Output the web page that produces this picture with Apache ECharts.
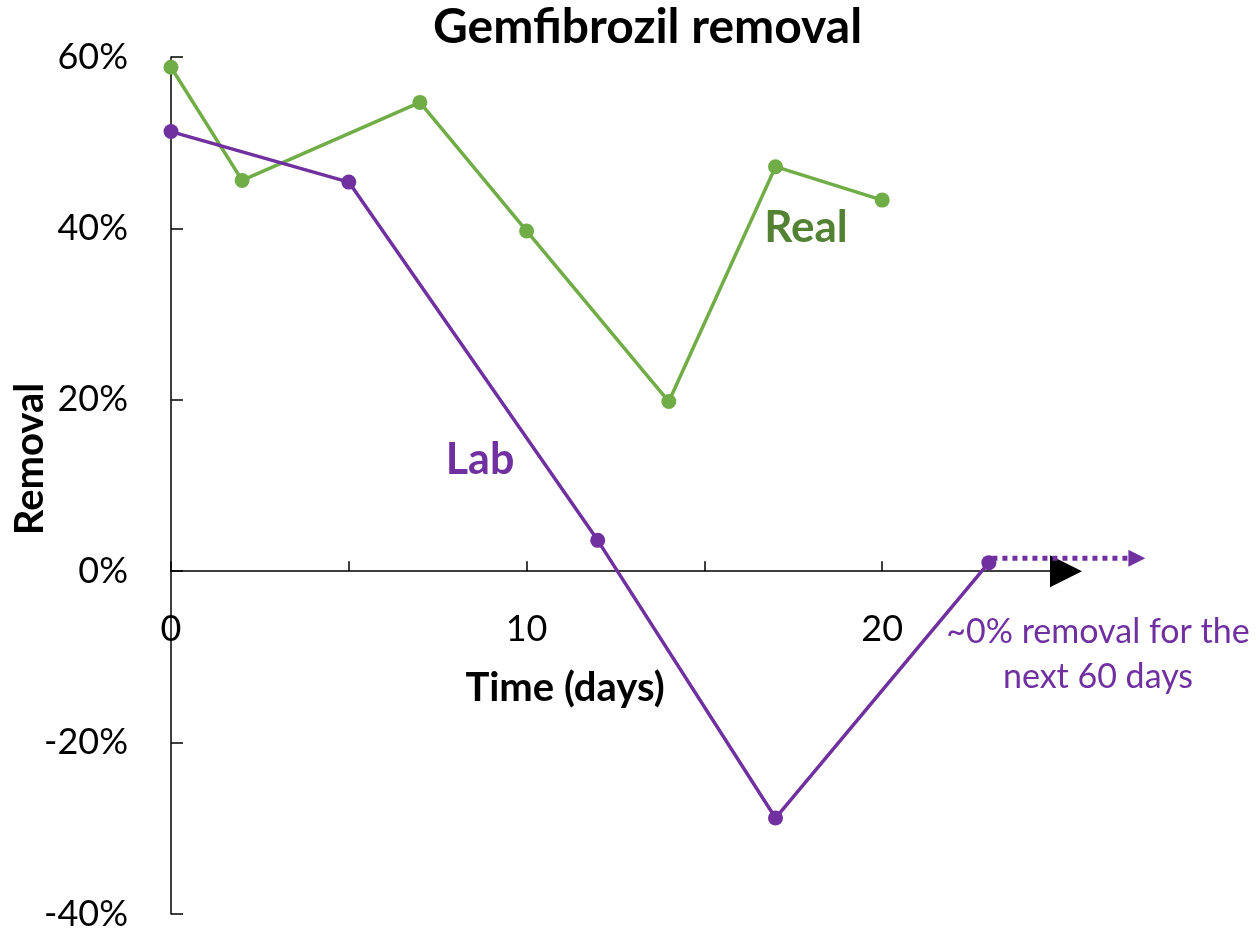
<!DOCTYPE html>
<html>
<head>
<meta charset="utf-8">
<title>Gemfibrozil removal</title>
<script src="https://cdn.jsdelivr.net/npm/echarts@6/dist/echarts.min.js"></script>
<style>
  html, body { margin: 0; padding: 0; background: #fff; }
  #chart { width: 1256px; height: 932px; }
</style>
</head>
<body>
<div id="chart"></div>
<script>
// days since start, removal in %
var realDays = [0, 2, 7, 10, 14, 17, 20]
var realRemoval = [58.8, 45.6, 54.7, 39.7, 19.8, 47.2, 43.3]
var labDays = [0, 5, 12, 17, 23]
var labRemoval = [51.3, 45.4, 3.6, -28.8, 1.0]
// the "~0% for the next 60 days" dotted arrow: [from day, to day, level]
var arrowSpan = [23.1, 27.4, 1.5]

var yTicks = [-40, -20, 0, 20, 40, 60]

var font = 'Lato, "Noto Sans", sans-serif'
var green = '#70AD47'
var purple = '#7030A0'

// grid edges in px, the x axis sits on the 0% line
var gridTop = 57, gridBottom = 914

function pairs(xs, ys) {
    return xs.map(function (x, i) { return [x, ys[i]] })
}

var chart = echarts.init(document.getElementById('chart'))

var option = {
    backgroundColor: '#fff',
    animation: false,
    title: {
        text: 'Gemfibrozil removal',
        left: 433,
        top: 4,
        padding: 0,
        textStyle: { fontFamily: font, fontWeight: 'bold', fontSize: 48, color: '#000' }
    },
    grid: {
        left: 171, right: 1256 - 1060, top: gridTop, bottom: 932 - gridBottom,
        containLabel: false, outerBoundsMode: 'none'
    },
    xAxis: {
        type: 'value',
        min: 0,
        max: 25,
        interval: 5,
        position: 'bottom',
        // lift the axis up to the 0% line
        offset: -(gridBottom - gridTop) * (0 - yTicks[0]) / (yTicks[yTicks.length - 1] - yTicks[0]),
        axisLine: {
            onZero: false,
            symbol: ['none', 'triangle'],
            symbolSize: [32, 32],
            symbolOffset: [0, 6],
            lineStyle: { color: '#000', width: 1.5 }
        },
        axisTick: { inside: true, length: 10, lineStyle: { color: '#000', width: 1.5 } },
        axisLabel: {
            margin: 40,
            fontFamily: font,
            fontSize: 36,
            color: '#000',
            formatter: function (v) { return v % 10 === 0 && v <= 20 ? String(v) : '' }
        },
        splitLine: { show: false }
    },
    yAxis: {
        type: 'value',
        min: yTicks[0],
        max: yTicks[yTicks.length - 1],
        interval: 20,
        axisLine: { show: true, onZero: false, lineStyle: { color: '#000', width: 1.5 } },
        axisTick: { show: true, inside: true, length: 12, lineStyle: { color: '#000', width: 1.5 } },
        axisLabel: {
            margin: 43,
            fontFamily: font,
            fontSize: 36,
            color: '#000',
            formatter: '{value}%'
        },
        splitLine: { show: false }
    },
    series: [
        {
            name: 'Real',
            type: 'line',
            data: pairs(realDays, realRemoval),
            symbol: 'circle',
            symbolSize: 15,
            lineStyle: { color: green, width: 3.5 },
            itemStyle: { color: green },
            z: 3
        },
        {
            name: 'Lab',
            type: 'line',
            data: pairs(labDays, labRemoval),
            symbol: 'circle',
            symbolSize: 15,
            lineStyle: { color: purple, width: 3.5 },
            itemStyle: { color: purple },
            z: 4
        },
        {
            name: 'next 60 days',
            type: 'custom',
            clip: false,
            data: [arrowSpan],
            renderItem: function (params, api) {
                var a = api.coord([api.value(0), api.value(2)])
                var b = api.coord([api.value(1), api.value(2)])
                var head = 17
                return {
                    type: 'group',
                    children: [
                        {
                            type: 'line',
                            shape: { x1: a[0], y1: a[1], x2: b[0] - head, y2: b[1] },
                            style: { stroke: purple, lineWidth: 5, lineDash: [5, 5] }
                        },
                        {
                            type: 'polygon',
                            shape: { points: [[b[0] - head, b[1] - head / 2], [b[0], b[1]], [b[0] - head, b[1] + head / 2]] },
                            style: { fill: purple }
                        }
                    ]
                }
            },
            z: 4
        }
    ],
    graphic: [
        {
            type: 'text',
            x: 30, y: 459,
            rotation: Math.PI / 2,
            style: { text: 'Removal', fontFamily: font, fontWeight: 'bold', fontSize: 40, fill: '#000', align: 'center', verticalAlign: 'middle' }
        },
        {
            type: 'text',
            x: 565, y: 688,
            style: { text: 'Time (days)', fontFamily: font, fontWeight: 'bold', fontSize: 40, fill: '#000', align: 'center', verticalAlign: 'middle' }
        },
        {
            type: 'text',
            x: 806, y: 228,
            style: { text: 'Real', fontFamily: font, fontWeight: 'bold', fontSize: 44, fill: '#548235', align: 'center', verticalAlign: 'middle' }
        },
        {
            type: 'text',
            x: 480, y: 460,
            style: { text: 'Lab', fontFamily: font, fontWeight: 'bold', fontSize: 43, fill: purple, align: 'center', verticalAlign: 'middle' }
        },
        {
            type: 'text',
            x: 1098, y: 655,
            style: {
                text: '~0% removal for the\nnext 60 days',
                fontFamily: font, fontSize: 34, lineHeight: 45,
                fill: purple, align: 'center', verticalAlign: 'middle'
            }
        }
    ]
}

chart.setOption(option)
</script>
</body>
</html>
